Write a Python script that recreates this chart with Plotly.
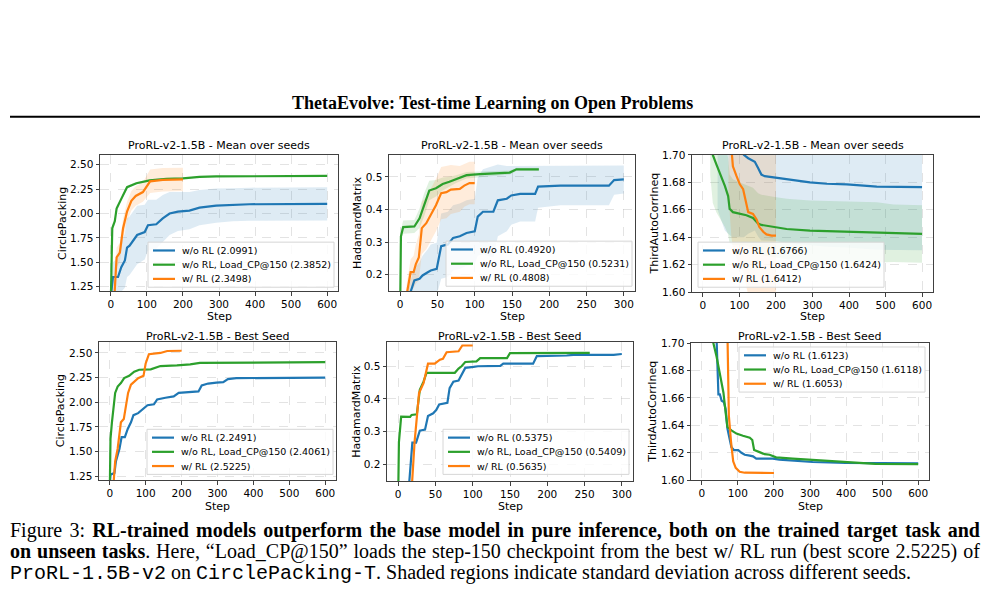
import numpy as np
import plotly.graph_objects as go

W, H = 989, 596
BLUE, ORANGE, GREEN = "#1f77b4", "#ff7f0e", "#2ca02c"
FILLS = {BLUE: "rgba(31,119,180,0.15)", ORANGE: "rgba(255,127,14,0.15)",
         GREEN: "rgba(44,160,44,0.15)"}

# ---- CirclePacking, mean over seeds
cp_mean_base_x = [0, 6, 20, 29, 39, 45, 52, 62, 73, 94, 103, 126, 144, 163, 186, 218, 246, 292, 338, 384, 600]
cp_mean_base_y = [1.15, 1.35, 1.35, 1.45, 1.52, 1.65, 1.67, 1.72, 1.78, 1.81, 1.88, 1.89, 1.95, 2.00, 2.02, 2.03, 2.06, 2.08, 2.09, 2.095, 2.0991]
cp_mean_base_sd = [0.1, 0.15, 0.2, 0.25, 0.28, 0.3, 0.3, 0.3, 0.3, 0.28, 0.26, 0.25, 0.24, 0.22, 0.2, 0.19, 0.18, 0.175, 0.17, 0.17, 0.17]
cp_mean_load_x = [0, 4, 11, 16, 29, 45, 71, 108, 154, 200, 246, 292, 600]
cp_mean_load_y = [1.1, 1.85, 1.92, 2.05, 2.15, 2.27, 2.31, 2.34, 2.355, 2.36, 2.375, 2.38, 2.3852]
cp_mean_load_sd = [0.05, 0.04, 0.03, 0.03, 0.02, 0.015, 0.012, 0.01, 0.008, 0.006, 0.005, 0.004, 0.004]
cp_mean_rl_x = [10, 16, 25, 34, 45, 57, 69, 89, 109, 144, 200]
cp_mean_rl_y = [1.15, 1.55, 1.6, 1.85, 2.02, 2.13, 2.18, 2.22, 2.33, 2.345, 2.3498]
cp_mean_rl_sd = [0.05, 0.1, 0.1, 0.1, 0.1, 0.1, 0.1, 0.1, 0.12, 0.12, 0.12]

# ---- HadamardMatrix, mean over seeds
hm_mean_base_x = [10, 19, 26, 30, 37, 41, 49, 55, 64, 71, 80, 89, 100, 104, 111, 125, 131, 143, 149, 161, 181, 185, 215, 280, 287, 300]
hm_mean_base_y = [0.12, 0.183, 0.188, 0.198, 0.208, 0.213, 0.218, 0.288, 0.293, 0.313, 0.318, 0.328, 0.333, 0.378, 0.393, 0.393, 0.428, 0.433, 0.443, 0.448, 0.448, 0.47, 0.473, 0.473, 0.49, 0.492]
hm_mean_base_sd = [0.03, 0.04, 0.05, 0.06, 0.07, 0.08, 0.08, 0.1, 0.1, 0.1, 0.1, 0.1, 0.1, 0.12, 0.13, 0.14, 0.11, 0.1, 0.09, 0.085, 0.085, 0.065, 0.06, 0.06, 0.045, 0.043]
hm_mean_load_x = [0, 1, 4, 19, 26, 32, 39, 48, 57, 66, 75, 89, 107, 125, 147, 156, 186]
hm_mean_load_y = [0.1, 0.318, 0.346, 0.348, 0.373, 0.413, 0.458, 0.465, 0.478, 0.485, 0.493, 0.505, 0.508, 0.51, 0.513, 0.523, 0.5231]
hm_mean_load_sd = [0.02, 0.02, 0.02, 0.02, 0.03, 0.035, 0.03, 0.025, 0.02, 0.015, 0.012, 0.01, 0.008, 0.007, 0.006, 0.005, 0.005]
hm_mean_rl_x = [8, 14, 18, 21, 25, 29, 35, 41, 48, 55, 62, 68, 80, 86, 93, 100]
hm_mean_rl_y = [0.13, 0.208, 0.208, 0.233, 0.253, 0.343, 0.358, 0.383, 0.413, 0.45, 0.453, 0.461, 0.463, 0.473, 0.481, 0.4808]
hm_mean_rl_sd = [0.03, 0.04, 0.05, 0.06, 0.07, 0.08, 0.08, 0.08, 0.08, 0.08, 0.08, 0.075, 0.07, 0.065, 0.065, 0.065]

# ---- ThirdAutoCorrIneq, mean over seeds
ta_mean_base_x = [40, 60, 80, 100, 112, 124, 142, 151, 160, 169, 202, 224, 247, 293, 339, 394, 449, 476, 600]
ta_mean_base_y = [1.80, 1.76, 1.73, 1.71, 1.70, 1.6976, 1.695, 1.6905, 1.6857, 1.6845, 1.6833, 1.682, 1.6814, 1.680, 1.679, 1.6786, 1.6774, 1.6769, 1.6766]
ta_mean_base_sd = [0.14, 0.115, 0.09, 0.07, 0.06, 0.055, 0.05, 0.05, 0.048, 0.047, 0.046, 0.046, 0.046, 0.046, 0.046, 0.046, 0.046, 0.046, 0.046]
ta_mean_load_x = [20, 27, 37, 46, 60, 69, 73, 82, 101, 119, 137, 151, 160, 192, 229, 293, 385, 476, 522, 600]
ta_mean_load_y = [1.72, 1.70, 1.693, 1.687, 1.6774, 1.670, 1.6607, 1.6583, 1.657, 1.656, 1.654, 1.650, 1.649, 1.6476, 1.646, 1.6448, 1.644, 1.6436, 1.6429, 1.6424]
ta_mean_load_sd = [0.035, 0.035, 0.035, 0.033, 0.03, 0.028, 0.025, 0.024, 0.023, 0.022, 0.022, 0.022, 0.022, 0.022, 0.022, 0.022, 0.022, 0.022, 0.021, 0.021]
ta_mean_rl_x = [70, 78, 82, 92, 101, 110, 117, 124, 137, 147, 154, 165, 174, 188, 200]
ta_mean_rl_y = [1.73, 1.70, 1.6917, 1.6845, 1.6786, 1.675, 1.6655, 1.6583, 1.657, 1.653, 1.6476, 1.644, 1.6421, 1.6412, 1.6412]
ta_mean_rl_sd = [0.06, 0.06, 0.06, 0.06, 0.06, 0.06, 0.06, 0.06, 0.06, 0.06, 0.06, 0.06, 0.06, 0.06, 0.06]

# ---- best seed
cp_best_base_x = [0, 2, 13, 17, 27, 33, 42, 50, 59, 66, 79, 91, 105, 123, 132, 155, 178, 192, 224, 247, 256, 274, 297, 316, 329, 352, 600]
cp_best_base_y = [1.15, 1.267, 1.283, 1.40, 1.53, 1.648, 1.648, 1.73, 1.797, 1.87, 1.89, 1.923, 1.97, 1.98, 2.029, 2.046, 2.06, 2.095, 2.105, 2.11, 2.17, 2.19, 2.20, 2.205, 2.235, 2.245, 2.2491]
cp_best_load_x = [0, 2, 6, 11, 15, 22, 31, 40, 54, 68, 82, 114, 141, 187, 224, 251, 600]
cp_best_load_y = [1.1, 1.63, 1.797, 1.946, 2.095, 2.16, 2.195, 2.245, 2.268, 2.31, 2.33, 2.334, 2.367, 2.374, 2.384, 2.40, 2.4061]
cp_best_rl_x = [10, 15, 22, 31, 39, 45, 51, 59, 68, 79, 94, 100, 109, 141, 160, 200]
cp_best_rl_y = [1.15, 1.40, 1.53, 1.797, 1.83, 1.963, 2.095, 2.178, 2.21, 2.245, 2.268, 2.394, 2.487, 2.50, 2.52, 2.5225]

hm_best_base_x = [14, 19, 24, 29, 36, 40, 47, 51, 55, 63, 66, 69, 74, 81, 85, 90, 101, 107, 137, 141, 181, 186, 226, 235, 289, 296, 300]
hm_best_base_y = [0.12, 0.266, 0.266, 0.303, 0.306, 0.348, 0.356, 0.366, 0.383, 0.388, 0.388, 0.433, 0.453, 0.456, 0.473, 0.495, 0.498, 0.50, 0.501, 0.508, 0.508, 0.531, 0.533, 0.535, 0.535, 0.5375, 0.5375]
hm_best_load_x = [0, 1, 4, 16, 18, 25, 29, 34, 38, 69, 76, 81, 85, 90, 105, 110, 146, 150, 257]
hm_best_load_y = [0.1, 0.268, 0.346, 0.345, 0.351, 0.353, 0.428, 0.453, 0.48, 0.481, 0.48, 0.493, 0.50, 0.513, 0.515, 0.525, 0.525, 0.54, 0.5409]
hm_best_rl_x = [18, 22, 28, 34, 40, 49, 56, 60, 65, 81, 86, 100]
hm_best_rl_y = [0.12, 0.268, 0.418, 0.448, 0.508, 0.508, 0.52, 0.523, 0.543, 0.546, 0.5635, 0.5635]

ta_best_base_x = [35, 46, 50, 55, 61, 66, 71, 78, 82, 89, 101, 110, 119, 133, 142, 151, 197, 215, 307, 398, 600]
ta_best_base_y = [1.75, 1.6626, 1.6626, 1.6579, 1.657, 1.652, 1.6376, 1.627, 1.624, 1.622, 1.622, 1.620, 1.6186, 1.618, 1.6174, 1.6157, 1.6157, 1.615, 1.6133, 1.6126, 1.6123]
ta_best_load_x = [20, 32, 41, 50, 60, 66, 71, 82, 96, 114, 133, 140, 145, 160, 174, 188, 206, 252, 298, 389, 481, 600]
ta_best_load_y = [1.74, 1.70, 1.690, 1.678, 1.6638, 1.6495, 1.6388, 1.6364, 1.634, 1.6324, 1.631, 1.6293, 1.6221, 1.6205, 1.619, 1.6186, 1.6167, 1.6157, 1.615, 1.6138, 1.612, 1.6118]
ta_best_rl_x = [65, 75, 81, 87, 94, 105, 119, 200]
ta_best_rl_y = [1.80, 1.647, 1.628, 1.6138, 1.609, 1.6062, 1.6055, 1.6053]

final_scores = {
    "cp_mean": ["2.0991", "2.3852", "2.3498"],
    "hm_mean": ["0.4920", "0.5231", "0.4808"],
    "ta_mean": ["1.6766", "1.6424", "1.6412"],
    "cp_best": ["2.2491", "2.4061", "2.5225"],
    "hm_best": ["0.5375", "0.5409", "0.5635"],
    "ta_best": ["1.6123", "1.6118", "1.6053"],
}
names = ["w/o RL", "w/o RL, Load_CP@150", "w/ RL"]


def px(p):
    return p / W


def py(p):
    return 1 - p / H


# panel boxes in pixels: left, right, top, bottom; legend box: left, top
panels = [
    dict(key="cp_mean", box=(100, 338, 152, 291), xr=[-30, 630], yr=[1.205, 2.6], dt=0.25, fmt=".2f", dx=100,
         ylab="CirclePacking", ylx=62, series=[(cp_mean_base_x, cp_mean_base_y, cp_mean_base_sd),
                                                (cp_mean_load_x, cp_mean_load_y, cp_mean_load_sd),
                                                (cp_mean_rl_x, cp_mean_rl_y, cp_mean_rl_sd)],
         leg=(148, 241)),
    dict(key="hm_mean", box=(389, 635, 152, 291), xr=[-15, 315], yr=[0.15, 0.567], dt=0.1, fmt=".1f", dx=50,
         ylab="HadamardMatrix", ylx=357, series=[(hm_mean_base_x, hm_mean_base_y, hm_mean_base_sd),
                                                  (hm_mean_load_x, hm_mean_load_y, hm_mean_load_sd),
                                                  (hm_mean_rl_x, hm_mean_rl_y, hm_mean_rl_sd)],
         leg=(446, 240)),
    dict(key="ta_mean", box=(692, 933, 152, 292), xr=[-30, 630], yr=[1.6, 1.7], dt=0.02, fmt=".2f", dx=100,
         ylab="ThirdAutoCorrIneq", ylx=655, series=[(ta_mean_base_x, ta_mean_base_y, ta_mean_base_sd),
                                                     (ta_mean_load_x, ta_mean_load_y, ta_mean_load_sd),
                                                     (ta_mean_rl_x, ta_mean_rl_y, ta_mean_rl_sd)],
         leg=(698, 241)),
    dict(key="cp_best", box=(99, 336, 343, 484), xr=[-30, 630], yr=[1.21, 2.61], dt=0.25, fmt=".2f", dx=100,
         ylab="CirclePacking", ylx=60, series=[(cp_best_base_x, cp_best_base_y, None),
                                                (cp_best_load_x, cp_best_load_y, None),
                                                (cp_best_rl_x, cp_best_rl_y, None)],
         leg=(147, 432)),
    dict(key="hm_best", box=(387, 633, 343, 485), xr=[-15, 315], yr=[0.148, 0.574], dt=0.1, fmt=".1f", dx=50,
         ylab="HadamardMatrix", ylx=357, series=[(hm_best_base_x, hm_best_base_y, None),
                                                  (hm_best_load_x, hm_best_load_y, None),
                                                  (hm_best_rl_x, hm_best_rl_y, None)],
         leg=(443, 432)),
    dict(key="ta_best", box=(691, 929, 344, 484), xr=[-30, 630], yr=[1.6, 1.7], dt=0.02, fmt=".2f", dx=100,
         ylab="ThirdAutoCorrIneq", ylx=653, series=[(ta_best_base_x, ta_best_base_y, None),
                                                     (ta_best_load_x, ta_best_load_y, None),
                                                     (ta_best_rl_x, ta_best_rl_y, None)],
         leg=(739, 348)),
]

fig = go.Figure()
colors = [BLUE, GREEN, ORANGE]
annotations = []
shapes = []
layout = {}
FONT = "DejaVu Sans"

for i, p in enumerate(panels):
    n = "" if i == 0 else str(i + 1)
    xa, ya = "x" + n, "y" + n
    l, r, t, b = p["box"]
    # shaded std bands first
    for (sx, sy, sd), c in zip(p["series"], colors):
        if sd is None:
            continue
        sx, sy, sd = np.array(sx), np.array(sy), np.array(sd)
        fig.add_trace(go.Scatter(x=np.concatenate([sx, sx[::-1]]),
                                 y=np.concatenate([sy + sd, (sy - sd)[::-1]]),
                                 fill="toself", fillcolor=FILLS[c], line=dict(width=0),
                                 mode="lines", hoverinfo="skip", showlegend=False,
                                 xaxis=xa, yaxis=ya))
    for (sx, sy, sd), c, nm in zip(p["series"], colors, names):
        fig.add_trace(go.Scatter(x=sx, y=sy, mode="lines", name=nm, showlegend=False,
                                 line=dict(color=c, width=2.2), xaxis=xa, yaxis=ya))
    ax_common = dict(showline=True, mirror=True, linecolor="#404040", linewidth=1,
                     ticks="outside", ticklen=3.5, tickcolor="#404040",
                     showgrid=True, gridcolor="rgba(176,176,176,0.35)", griddash="dash",
                     gridwidth=0.8, zeroline=False,
                     tickfont=dict(family=FONT, size=10.5, color="black"))
    layout["xaxis" + n] = dict(ax_common, domain=[px(l), px(r)], range=p["xr"], anchor=ya,
                               tickmode="linear", tick0=0, dtick=p["dx"])
    layout["yaxis" + n] = dict(ax_common, domain=[py(b), py(t)], range=p["yr"], anchor=xa,
                               tickmode="linear", tick0=0, dtick=p["dt"], tickformat=p["fmt"])

    # legend box drawn by hand (matplotlib-like compact spacing)
    lx, lt = p["leg"]
    shapes.append(dict(type="rect", xref="paper", yref="paper", layer="above",
                       x0=px(lx), x1=px(lx + 186), y0=py(lt), y1=py(lt + 46),
                       fillcolor="rgba(255,255,255,0.8)", line=dict(color="#d6d6d6", width=1)))
    for k, (c, nm, sc) in enumerate(zip(colors, names, final_scores[p["key"]])):
        yy = lt + 8.5 + 14.5 * k
        shapes.append(dict(type="line", xref="paper", yref="paper", layer="above",
                           x0=px(lx + 5), x1=px(lx + 27), y0=py(yy), y1=py(yy),
                           line=dict(color=c, width=2.2)))
        annotations.append(dict(text=f"{nm} ({sc})", x=px(lx + 32), y=py(yy), xref="paper", yref="paper",
                                xanchor="left", yanchor="middle", showarrow=False,
                                font=dict(family=FONT, size=9.5, color="black")))

    title = "ProRL-v2-1.5B - Mean over seeds" if i < 3 else "ProRL-v2-1.5B - Best Seed"
    annotations.append(dict(text=title, x=px((l + r) / 2), y=py(142 if i < 3 else 337),
                            xref="paper", yref="paper",
                            xanchor="center", yanchor="middle", showarrow=False,
                            font=dict(family=FONT, size=11, color="black")))
    annotations.append(dict(text=p["ylab"], x=px(p["ylx"]), y=py((t + b) / 2), xref="paper", yref="paper",
                            textangle=-90, xanchor="center", yanchor="middle", showarrow=False,
                            font=dict(family=FONT, size=11, color="black")))
    annotations.append(dict(text="Step", x=px((l + r) / 2), y=py(317 if i < 3 else 511),
                            xref="paper", yref="paper",
                            xanchor="center", yanchor="middle", showarrow=False,
                            font=dict(family=FONT, size=11, color="black")))

SERIF = "Liberation Serif"
MONO = "Liberation Mono"
annotations.append(dict(text="<b>ThetaEvolve: Test-time Learning on Open Problems</b>",
                        x=px(492), y=py(99), xref="paper", yref="paper", xanchor="center",
                        yanchor="middle", showarrow=False,
                        font=dict(family=SERIF, size=18, color="black")))
caption = [
    "<span style='word-spacing:2.2px'>Figure 3: <b>RL-trained models outperform the base model in pure inference, "
    "both on the trained target task and</b></span>",
    "<span style='word-spacing:0.9px'><b>on unseen tasks</b>. Here, \u201cLoad_CP@150\u201d loads the step-150 checkpoint "
    "from the best w/ RL run (best score 2.5225) of</span>",
    f"<span style='font-family:{MONO}'>ProRL-1.5B-v2</span> on "
    f"<span style='font-family:{MONO}'>CirclePacking-T</span>. Shaded regions indicate standard deviation "
    "across different seeds.",
]
for k, line in enumerate(caption):
    annotations.append(dict(text=line, x=px(8), y=py(535 + 22 * k), xref="paper", yref="paper",
                            xanchor="left", yanchor="middle", showarrow=False,
                            font=dict(family=SERIF, size=20, color="black")))

shapes.append(dict(type="line", xref="paper", yref="paper", x0=px(10), x1=px(980),
                   y0=py(113), y1=py(113), line=dict(color="black", width=2)))

fig.update_layout(
    width=W, height=H, margin=dict(l=0, r=0, t=0, b=0),
    paper_bgcolor="white", plot_bgcolor="white",
    annotations=annotations, shapes=shapes,
    **layout,
)
fig.write_html("out.html", config={"displayModeBar": False},
               post_script="document.body.style.margin='0';")
